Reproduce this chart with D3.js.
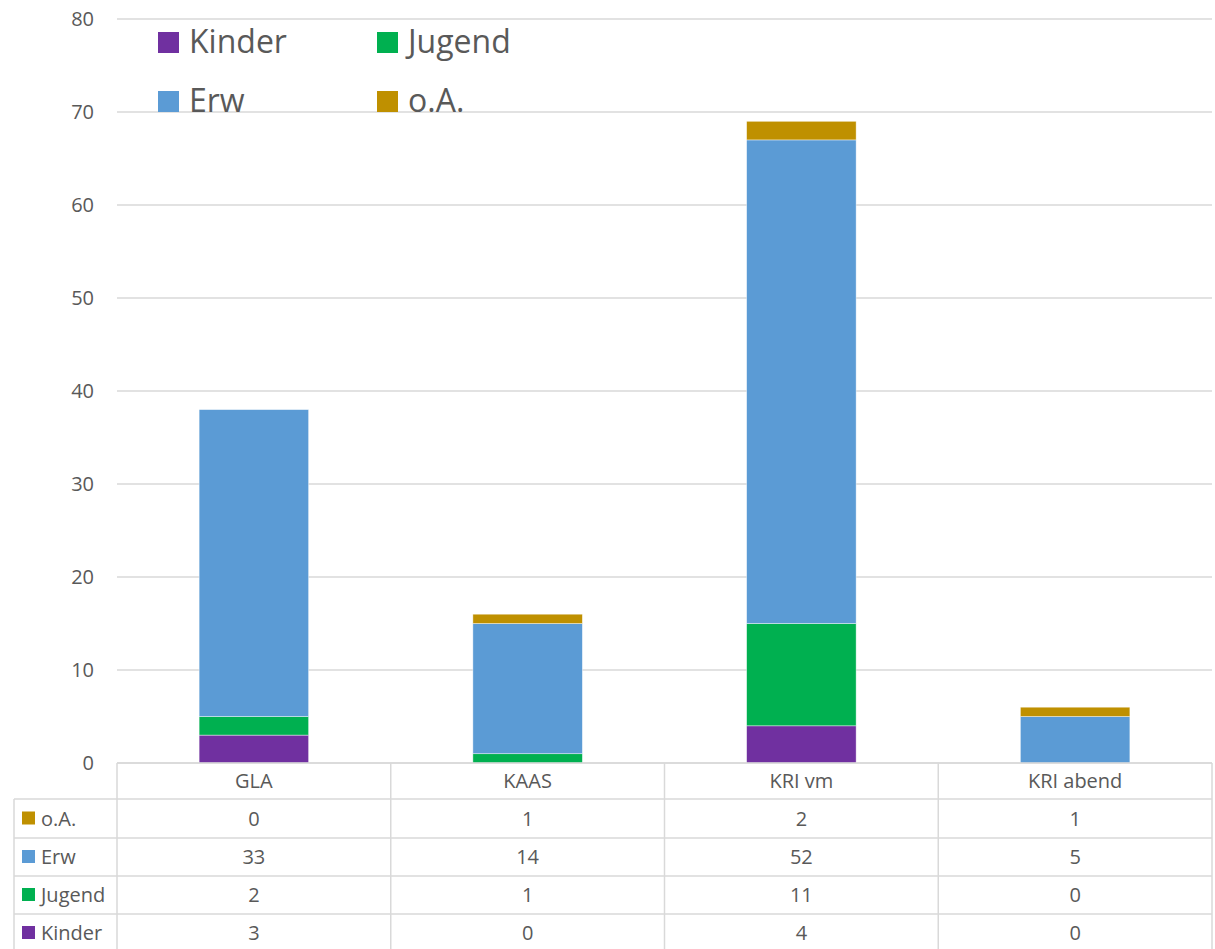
<!DOCTYPE html>
<html><head><meta charset="utf-8">
<script src="https://cdn.jsdelivr.net/npm/d3@7"></script>
<style>body{margin:0;background:#fff}svg{display:block}text{font-family:"Open Sans",sans-serif;fill:#595959}</style>
</head><body><svg id="c" width="1215" height="949"></svg>
<script>
const categories = ["GLA", "KAAS", "KRI vm", "KRI abend"];
const seriesNames = ["Kinder", "Jugend", "Erw", "o.A."];
const kinder = [3, 0, 4, 0];
const jugend = [2, 1, 11, 0];
const erw = [33, 14, 52, 5];
const oa = [0, 1, 2, 1];
const colors = ["#7030A0", "#00B050", "#5B9BD5", "#BF9000"];
const yTicks = [0, 10, 20, 30, 40, 50, 60, 70, 80];

const values = [kinder, jugend, erw, oa];
const rows = categories.map((c, i) => {
  const r = {cat: c};
  seriesNames.forEach((s, j) => r[s] = values[j][i]);
  return r;
});
const svg = d3.select("#c");
const L = 117, R = 1212, T = 19, B = 763;
const x = d3.scaleBand().domain(categories).range([L, R]).paddingInner(0).paddingOuter(0);
const y = d3.scaleLinear().domain([0, 80]).range([B, T]);

// gridlines
svg.append("g").selectAll("line").data(yTicks).join("line")
  .attr("x1", L).attr("x2", R).attr("y1", d => y(d)).attr("y2", d => y(d))
  .attr("stroke", "#d9d9d9").attr("stroke-width", 1.5);
// y labels
svg.append("g").selectAll("text").data(yTicks).join("text")
  .attr("x", 94).attr("y", d => y(d)).attr("dy", "0.35em").attr("text-anchor", "end")
  .attr("font-size", 20).text(d => d);

// stacked bars
const stack = d3.stack().keys(seriesNames)(rows);
const bw = x.bandwidth() * 0.4;
svg.append("g").selectAll("g").data(stack).join("g")
  .attr("fill", (d, i) => colors[i])
  .selectAll("rect").data(d => d.filter(p => p[1] - p[0] > 0)).join("rect")
  .attr("x", d => x(d.data.cat) + (x.bandwidth() - bw) / 2)
  .attr("width", bw)
  .attr("y", d => y(d[1]))
  .attr("height", d => y(d[0]) - y(d[1]))
  .attr("stroke", "#fff").attr("stroke-width", 0.7).attr("stroke-opacity", 0.6);

// legend
const legendPos = [[158, 32], [377, 32], [158, 91], [377, 91]];
const lg = svg.append("g");
seriesNames.forEach((s, i) => {
  const [lx, ly] = legendPos[i];
  lg.append("rect").attr("x", lx).attr("y", ly).attr("width", 21).attr("height", 21).attr("fill", colors[i]);
  lg.append("text").attr("x", lx + 31).attr("y", ly + 21).attr("font-size", 32).text(s);
});

// data table
const rowY = [763, 799, 838, 876, 914, 952];
const tableOrder = [3, 2, 1, 0]; // o.A., Erw, Jugend, Kinder
const tg = svg.append("g");
const lineC = "#d9d9d9";
tg.append("line").attr("x1", L).attr("x2", R).attr("y1", rowY[0]).attr("y2", rowY[0]).attr("stroke", lineC).attr("stroke-width", 1.5);
for (let k = 1; k < rowY.length; k++) {
  tg.append("line").attr("x1", 14).attr("x2", R).attr("y1", rowY[k]).attr("y2", rowY[k]).attr("stroke", lineC).attr("stroke-width", 1.5);
}
tg.append("line").attr("x1", 14).attr("x2", 14).attr("y1", rowY[1]).attr("y2", 949).attr("stroke", lineC).attr("stroke-width", 1.5);
const vx = categories.map(c => x(c)).concat([R]);
vx.forEach(v => tg.append("line").attr("x1", v).attr("x2", v).attr("y1", rowY[0]).attr("y2", 949).attr("stroke", lineC).attr("stroke-width", 1.5));
tg.selectAll("text.h").data(categories).join("text").attr("class", "h")
  .attr("x", d => x(d) + x.bandwidth() / 2).attr("y", (rowY[0] + rowY[1]) / 2).attr("dy", "0.35em")
  .attr("text-anchor", "middle").attr("font-size", 20).text(d => d);
tableOrder.forEach((si, r) => {
  const cy = (rowY[r + 1] + rowY[r + 2]) / 2;
  tg.append("rect").attr("x", 22).attr("y", cy - 7).attr("width", 13).attr("height", 13).attr("fill", colors[si]);
  tg.append("text").attr("x", 41).attr("y", cy).attr("dy", "0.35em").attr("font-size", 20).text(seriesNames[si]);
  categories.forEach((c, ci) => {
    tg.append("text").attr("x", x(c) + x.bandwidth() / 2).attr("y", cy).attr("dy", "0.35em")
      .attr("text-anchor", "middle").attr("font-size", 20).text(values[si][ci]);
  });
});
</script></body></html>
